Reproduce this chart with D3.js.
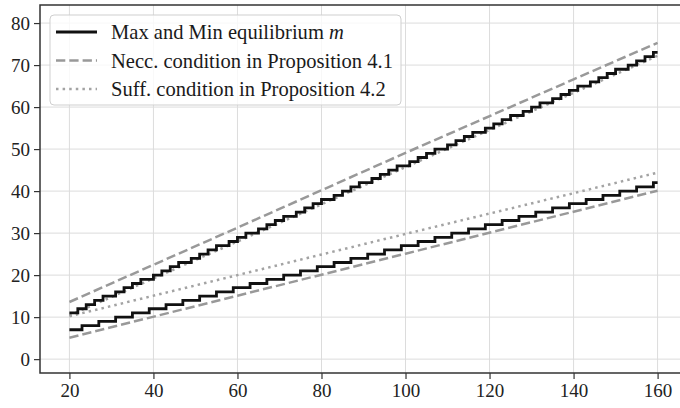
<!DOCTYPE html>
<html>
<head>
<meta charset="utf-8">
<script src="https://cdn.jsdelivr.net/npm/d3@7"></script>
<style>
  html, body { margin: 0; padding: 0; background: #fff; }
  svg { display: block; }
  svg text { font-family: "Liberation Serif", "Times New Roman", serif; }
</style>
</head>
<body>
<svg id="chart" width="680" height="408"></svg>
<script>
// n = 20 ... 160
const nStart = 20;
const maxM = [
  11,11,12,12,13,13,14,14,15,15,
  15,16,16,17,17,18,18,19,19,19,
  20,20,21,21,22,22,23,23,23,24,
  24,25,25,26,26,27,27,27,28,28,
  29,29,30,30,30,31,31,32,32,33,
  33,34,34,34,35,35,36,36,37,37,
  38,38,38,39,39,40,40,41,41,42,
  42,42,43,43,44,44,45,45,46,46,
  46,47,47,48,48,49,49,50,50,50,
  51,51,52,52,53,53,54,54,54,55,
  55,56,56,57,57,58,58,58,59,59,
  60,60,61,61,61,62,62,63,63,64,
  64,65,65,65,66,66,67,67,68,68,
  69,69,69,70,70,71,71,72,72,73,
  73
];
const minM = [
  7,7,7,
  8,8,8,8, 9,9,9,9, 10,10,10,10, 11,11,11,11,
  12,12,12,12, 13,13,13,13, 14,14,14,14, 15,15,15,15,
  16,16,16,16, 17,17,17,17, 18,18,18,18, 19,19,19,19,
  20,20,20,20, 21,21,21,21, 22,22,22,22, 23,23,23,23,
  24,24,24,24, 25,25,25,25, 26,26,26,26, 27,27,27,27,
  28,28,28,28, 29,29,29,29, 30,30,30,30, 31,31,31,31,
  32,32,32,32, 33,33,33,33, 34,34,34,34, 35,35,35,35,
  36,36,36,36, 37,37,37,37, 38,38,38,38, 39,39,39,39,
  40,40,40,40, 41,41,41,41,
  42,42
];

// condition curves, read at a few n
const condN = [20, 60, 100, 140, 160];
const neccUpper = [13.6, 31.3, 49.1, 66.6, 75.3];
const neccLower = [5.1, 15.1, 25.1, 35.1, 40.1];
const suffUpper = [10.4, 28.0, 45.7, 63.4, 72.2];
const suffLower = [10.2, 20.0, 29.8, 39.5, 44.4];

const xTicks = [20, 40, 60, 80, 100, 120, 140, 160];
const yTicks = [0, 10, 20, 30, 40, 50, 60, 70, 80];

const legendItems = [
  { label: "Max and Min equilibrium ", italic: "m", style: "solid" },
  { label: "Necc. condition in Proposition 4.1", italic: "", style: "dashed" },
  { label: "Suff. condition in Proposition 4.2", italic: "", style: "dotted" }
];

const blackColor = "#111";
const greyColor = "#999";
const dotColor = "#a3a3a3";
const lineW = 2.5;
const serif = "'Liberation Serif', 'Times New Roman', serif";

const svg = d3.select("#chart");
const plot = { left: 40, top: 5, right: 687, bottom: 373 };

const x = d3.scaleLinear().domain([13, 167]).range([plot.left, plot.right]);
const y = d3.scaleLinear().domain([-3.3, 84.3]).range([plot.bottom, plot.top]);

svg.append("defs").append("clipPath").attr("id", "clip")
  .append("rect")
  .attr("x", plot.left).attr("y", plot.top)
  .attr("width", plot.right - plot.left).attr("height", plot.bottom - plot.top);

// grid
const grid = svg.append("g").attr("stroke", "#dcdcdc").attr("stroke-width", 1);
grid.selectAll(".gx").data(xTicks).join("line")
  .attr("x1", d => x(d)).attr("x2", d => x(d))
  .attr("y1", plot.top).attr("y2", plot.bottom);
grid.selectAll(".gy").data(yTicks).join("line")
  .attr("x1", plot.left).attr("x2", plot.right)
  .attr("y1", d => y(d)).attr("y2", d => y(d));

const lines = svg.append("g").attr("clip-path", "url(#clip)").attr("fill", "none");

const lineGen = d3.line().x(d => x(d[0])).y(d => y(d[1]));
const stepGen = d3.line().x(d => x(d[0])).y(d => y(d[1])).curve(d3.curveStepAfter);

function pairs(ns, vals) { return ns.map((n, i) => [n, vals[i]]); }
const stepN = maxM.map((_, i) => nStart + i);

// dashed
[neccUpper, neccLower].forEach(vals => {
  lines.append("path")
    .attr("d", lineGen(pairs(condN, vals)))
    .attr("stroke", greyColor).attr("stroke-width", lineW)
    .attr("stroke-dasharray", "9.3,4");
});
// dotted
[suffUpper, suffLower].forEach(vals => {
  lines.append("path")
    .attr("d", lineGen(pairs(condN, vals)))
    .attr("stroke", dotColor).attr("stroke-width", lineW)
    .attr("stroke-dasharray", "2.5,4.1");
});
// step lines
[maxM, minM].forEach(vals => {
  lines.append("path")
    .attr("d", stepGen(pairs(stepN, vals)))
    .attr("stroke", blackColor).attr("stroke-width", 2.8)
    .attr("stroke-linejoin", "miter");
});

// axes
const xAxis = svg.append("g")
  .attr("transform", `translate(0,${plot.bottom})`)
  .call(d3.axisBottom(x).tickValues(xTicks).tickSize(6).tickPadding(5).tickFormat(d3.format("d")));
const yAxis = svg.append("g")
  .attr("transform", `translate(${plot.left},0)`)
  .call(d3.axisLeft(y).tickValues(yTicks).tickSize(6).tickPadding(4).tickFormat(d3.format("d")));

[xAxis, yAxis].forEach(ax => {
  ax.attr("font-family", serif);
  ax.select(".domain").remove();
  ax.selectAll(".tick line").attr("stroke", "#333").attr("stroke-width", 1.2);
  ax.selectAll(".tick text")
    .attr("fill", "#222")
    .attr("font-family", serif)
    .attr("font-size", 19);
});

// spines (left, bottom, top)
const spine = svg.append("g").attr("stroke", "#333").attr("stroke-width", 1.5).attr("fill", "none");
spine.append("path")
  .attr("d", `M${plot.right},${plot.top}H${plot.left}V${plot.bottom}H${plot.right}`);

// legend
const leg = svg.append("g");
leg.append("rect")
  .attr("x", 50).attr("y", 15).attr("width", 351).attr("height", 90)
  .attr("rx", 4)
  .attr("fill", "#fff").attr("fill-opacity", 0.8)
  .attr("stroke", "#cfcfcf").attr("stroke-width", 1);

const rows = leg.selectAll(".row").data(legendItems).join("g")
  .attr("transform", (d, i) => `translate(0,${32 + i * 28.5})`);

rows.append("line")
  .attr("x1", 56).attr("x2", 97).attr("y1", 0).attr("y2", 0)
  .attr("stroke-width", d => d.style === "solid" ? 2.8 : lineW)
  .attr("stroke", d => d.style === "solid" ? blackColor : d.style === "dashed" ? greyColor : dotColor)
  .attr("stroke-dasharray", d => d.style === "dashed" ? "9.3,4" : d.style === "dotted" ? "2.5,4.1" : null);

const txt = rows.append("text")
  .attr("x", 111).attr("y", 0).attr("dy", "0.35em")
  .attr("fill", "#1a1a1a")
  .attr("font-family", serif)
  .attr("font-size", 18);
txt.append("tspan").text(d => d.label);
txt.append("tspan").attr("font-style", "italic").text(d => d.italic);

// fit legend text width to the box (longest label ~282px wide)
const widest = d3.max(txt.nodes(), n => n.getComputedTextLength());
if (widest > 0) txt.attr("font-size", 18 * 282 / widest);
</script>
</body>
</html>
